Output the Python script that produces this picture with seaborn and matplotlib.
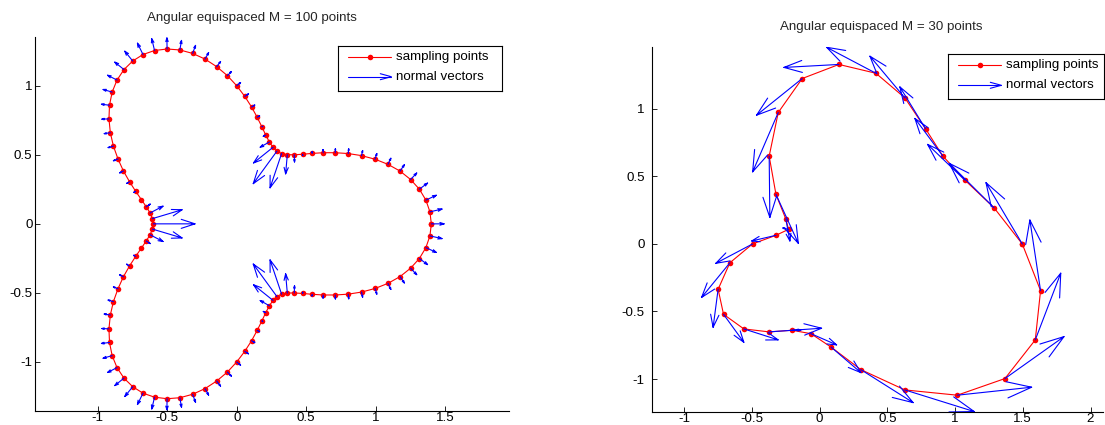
import numpy as np
import matplotlib
matplotlib.use('Agg')
import matplotlib.pyplot as plt
import seaborn as sns

# ---- left panel: M = 100 sampling points and normal vectors ----
x100 = [1.400, 1.390, 1.361, 1.314, 1.251, 1.175, 1.088, 0.995, 0.898, 0.802,
        0.709, 0.622, 0.543, 0.474, 0.414, 0.364, 0.323, 0.289, 0.261, 0.235,
        0.209, 0.181, 0.147, 0.107, 0.058, 0.000, -0.067, -0.144, -0.228, -0.317,
        -0.409, -0.501, -0.591, -0.674, -0.748, -0.811, -0.861, -0.896, -0.915, -0.919,
        -0.909, -0.887, -0.854, -0.815, -0.771, -0.727, -0.686, -0.651, -0.623, -0.606,
        -0.600, -0.606, -0.623, -0.651, -0.686, -0.727, -0.771, -0.815, -0.854, -0.887,
        -0.909, -0.919, -0.915, -0.896, -0.861, -0.811, -0.748, -0.674, -0.591, -0.501,
        -0.409, -0.317, -0.228, -0.144, -0.067, 0.000, 0.058, 0.107, 0.147, 0.181,
        0.209, 0.235, 0.261, 0.289, 0.323, 0.364, 0.414, 0.474, 0.543, 0.622,
        0.709, 0.802, 0.898, 0.995, 1.088, 1.175, 1.251, 1.314, 1.361, 1.390]
y100 = [0.000, 0.087, 0.172, 0.251, 0.321, 0.382, 0.431, 0.468, 0.494, 0.509,
        0.515, 0.515, 0.510, 0.504, 0.500, 0.501, 0.509, 0.526, 0.554, 0.593,
        0.643, 0.703, 0.772, 0.846, 0.923, 1.000, 1.073, 1.138, 1.193, 1.234,
        1.259, 1.266, 1.255, 1.226, 1.179, 1.117, 1.041, 0.954, 0.859, 0.760,
        0.660, 0.563, 0.470, 0.383, 0.305, 0.236, 0.176, 0.124, 0.079, 0.038,
        0.000, -0.038, -0.079, -0.124, -0.176, -0.236, -0.305, -0.383, -0.470, -0.563,
        -0.660, -0.760, -0.859, -0.954, -1.041, -1.117, -1.179, -1.226, -1.255, -1.266,
        -1.259, -1.234, -1.193, -1.138, -1.073, -1.000, -0.923, -0.846, -0.772, -0.703,
        -0.643, -0.593, -0.554, -0.526, -0.509, -0.501, -0.500, -0.504, -0.510, -0.515,
        -0.515, -0.509, -0.494, -0.468, -0.431, -0.382, -0.321, -0.251, -0.172, -0.087]
u100 = [0.092, 0.087, 0.075, 0.059, 0.044, 0.031, 0.021, 0.013, 0.008, 0.004,
        0.001, -0.001, -0.001, 0.001, 0.002, -0.012, -0.083, -0.170, -0.140, -0.066,
        -0.018, 0.006, 0.018, 0.023, 0.027, 0.028, 0.029, 0.028, 0.026, 0.021,
        0.012, -0.001, -0.020, -0.040, -0.057, -0.066, -0.068, -0.065, -0.058, -0.051,
        -0.044, -0.038, -0.033, -0.027, -0.021, -0.013, 0.000, 0.029, 0.093, 0.213,
        0.300, 0.213, 0.093, 0.029, 0.000, -0.013, -0.021, -0.027, -0.033, -0.038,
        -0.044, -0.051, -0.058, -0.065, -0.068, -0.066, -0.057, -0.040, -0.020, -0.001,
        0.012, 0.021, 0.026, 0.028, 0.029, 0.028, 0.027, 0.023, 0.018, 0.006,
        -0.018, -0.066, -0.140, -0.170, -0.083, -0.012, 0.002, 0.001, -0.001, -0.001,
        0.001, 0.004, 0.008, 0.013, 0.021, 0.031, 0.044, 0.059, 0.075, 0.087]
v100 = [0.000, 0.020, 0.035, 0.044, 0.047, 0.046, 0.044, 0.041, 0.037, 0.034,
        0.029, 0.023, 0.012, -0.009, -0.052, -0.139, -0.248, -0.235, -0.113, -0.038,
        -0.009, 0.003, 0.009, 0.014, 0.018, 0.023, 0.030, 0.037, 0.047, 0.058,
        0.069, 0.080, 0.085, 0.082, 0.071, 0.054, 0.035, 0.019, 0.007, -0.002,
        -0.007, -0.011, -0.013, -0.014, -0.013, -0.009, 0.000, 0.019, 0.049, 0.064,
        0.000, -0.064, -0.049, -0.019, 0.000, 0.009, 0.013, 0.014, 0.013, 0.011,
        0.007, 0.002, -0.007, -0.019, -0.035, -0.054, -0.071, -0.082, -0.085, -0.080,
        -0.069, -0.058, -0.047, -0.037, -0.030, -0.023, -0.018, -0.014, -0.009, -0.003,
        0.009, 0.038, 0.113, 0.235, 0.248, 0.139, 0.052, 0.009, -0.012, -0.023,
        -0.029, -0.034, -0.037, -0.041, -0.044, -0.046, -0.047, -0.044, -0.035, -0.020]

# ---- right panel: M = 30 sampling points and normal vectors ----
x30 = [1.496, 1.287, 1.072, 0.908, 0.782, 0.629, 0.415, 0.142, -0.129, -0.306,
       -0.373, -0.323, -0.250, -0.230, -0.323, -0.496, -0.663, -0.750, -0.710, -0.560,
       -0.373, -0.205, -0.065, 0.085, 0.304, 0.629, 1.016, 1.368, 1.592, 1.631]
y30 = [-0.001, 0.267, 0.471, 0.651, 0.850, 1.079, 1.261, 1.326, 1.222, 0.971,
       0.648, 0.366, 0.183, 0.107, 0.063, -0.001, -0.140, -0.336, -0.521, -0.629,
       -0.651, -0.639, -0.664, -0.764, -0.930, -1.080, -1.119, -0.996, -0.710, -0.346]
u30 = [-0.268, -0.330, -0.275, -0.205, -0.190, -0.258, -0.364, -0.406, -0.337, -0.189,
       0.005, 0.165, 0.030, -0.042, -0.179, -0.271, -0.209, -0.037, 0.150, 0.253,
       0.387, 0.066, 0.190, 0.219, 0.386, 0.512, 0.549, 0.436, 0.188, -0.079]
v30 = [0.453, 0.328, 0.264, 0.276, 0.310, 0.308, 0.192, -0.022, -0.271, -0.439,
       -0.453, -0.362, -0.162, 0.010, -0.042, -0.143, -0.256, -0.281, -0.207, -0.081,
       0.027, 0.002, -0.083, -0.188, -0.244, -0.160, 0.059, 0.310, 0.493, 0.522]

titles = ['Angular equispaced M = 100 points', 'Angular equispaced M = 30 points']
legend_labels = ['sampling points', 'normal vectors']
xticks_left = [-1, -0.5, 0, 0.5, 1, 1.5]
xticks_right = [-1, -0.5, 0, 0.5, 1, 1.5, 2]
yticks = [-1, -0.5, 0, 0.5, 1]

sns.set_theme(style='white')
plt.rcParams['font.family'] = ['Liberation Sans', 'DejaVu Sans']
plt.rcParams['axes.unicode_minus'] = False
FS = 9.6
W, H = 1105, 425
fig = plt.figure(figsize=(W/100, H/100), dpi=100)


def arrows(ax, x, y, u, v):
    X, Y = [], []
    a, b = 0.33, 0.33
    for xi, yi, ui, vi in zip(x, y, u, v):
        tx, ty = xi + ui, yi + vi
        X += [xi, tx, np.nan, tx - a*(ui + b*vi), tx, tx - a*(ui - b*vi), np.nan]
        Y += [yi, ty, np.nan, ty - a*(vi - b*ui), ty, ty - a*(vi + b*ui), np.nan]
    ax.plot(X, Y, color='blue', lw=0.8)


def panel(rect, xs, ys, us, vs, xlim, ylim, xt, yt, ypad):
    ax = fig.add_axes(rect)
    sns.lineplot(x=list(xs) + [xs[0]], y=list(ys) + [ys[0]], sort=False, estimator=None,
                 color='red', marker='o', markersize=4, markeredgewidth=0, lw=0.8, ax=ax)
    arrows(ax, xs, ys, us, vs)
    ax.set_xlim(*xlim); ax.set_ylim(*ylim)
    ax.set_xticks(xt); ax.set_yticks(yt)
    ax.set_xticklabels([f'{t:g}' for t in xt]); ax.set_yticklabels([f'{t:g}' for t in yt])
    for s in ['top', 'right']:
        ax.spines[s].set_visible(False)
    for s in ['left', 'bottom']:
        ax.spines[s].set_color('black'); ax.spines[s].set_linewidth(0.8)
    ax.tick_params(direction='in', length=3.4, width=0.6, color='black', labelsize=FS,
                   labelcolor='black', left=True, bottom=True)
    ax.tick_params(axis='x', pad=1.0)
    ax.tick_params(axis='y', pad=ypad)
    return ax


def legend(box):
    lx0, ly0, lx1, ly1 = box
    lg = fig.add_axes([lx0/W, 1 - ly1/H, (lx1 - lx0)/W, (ly1 - ly0)/H])
    lg.set_xlim(lx0, lx1); lg.set_ylim(ly1, ly0)
    lg.set_xticks([]); lg.set_yticks([])
    for s in lg.spines.values():
        s.set_color('black'); s.set_linewidth(0.8); s.set_visible(True)
    r1, r2 = ly0 + 11, ly0 + 31
    a0, a1 = lx0 + 10, lx0 + 53
    lg.plot([a0, a1], [r1, r1], color='red', lw=0.8)
    lg.plot([(a0 + a1)/2], [r1], 'o', color='red', ms=4, mew=0)
    lg.plot([a0, a1], [r2, r2], color='blue', lw=0.8)
    lg.plot([a1 - 11, a1, a1 - 11], [r2 - 3, r2, r2 + 3], color='blue', lw=0.8)
    lg.text(lx0 + 57.5, r1, legend_labels[0], fontsize=FS, va='center', ha='left', color='black')
    lg.text(lx0 + 57.5, r2, legend_labels[1], fontsize=FS, va='center', ha='left', color='black')


panel([35/W, 14/H, 474.3/W, 374.3/H], x100, y100, u100, v100,
      (-1.451, 1.961), (-1.355, 1.355), xticks_left, yticks, 1.8)
panel([652.3/W, 13.3/H, (1103 - 652.3)/W, 364.7/H], x30, y30, u30, v30,
      (-1.236, 2.092), (-1.241, 1.455), xticks_right, yticks, 5.5)
legend((338.3, 45.7, 502.3, 91.0))
legend((948.3, 54.3, 1104.0, 99.3))
fig.text(251.5/W, 1 - 18/H, titles[0], fontsize=FS, ha='center', va='center')
fig.text(881.5/W, 1 - 27/H, titles[1], fontsize=FS, ha='center', va='center')
fig.savefig('out.png')
